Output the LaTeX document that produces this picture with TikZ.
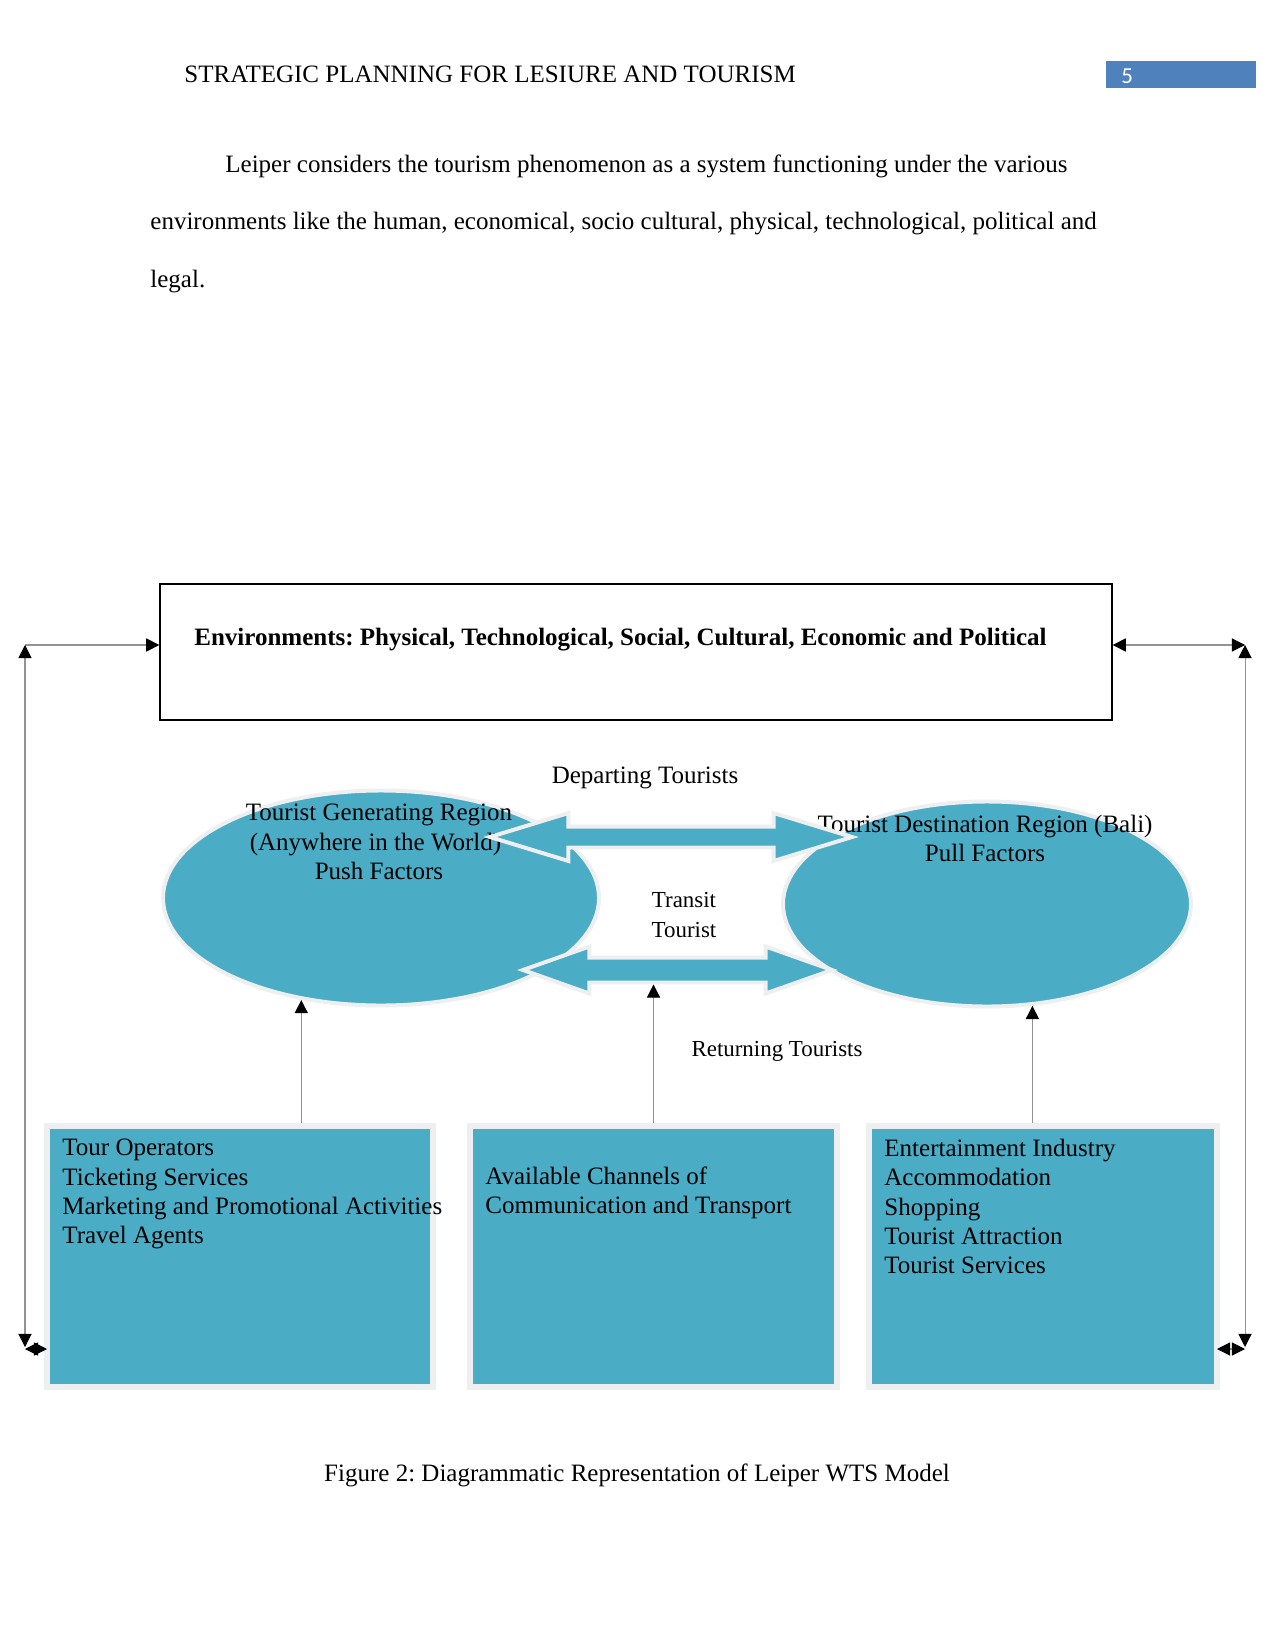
\documentclass[tikz,border=0pt]{standalone}
\usepackage{fontspec}
\setmainfont{Liberation Serif}
\newfontfamily\numfont{Carlito}
\usetikzlibrary{shapes.geometric,shapes.arrows,arrows.meta}
\frenchspacing

\definecolor{tourblue}{HTML}{4BACC6}
\definecolor{pageblue}{HTML}{4F81BD}
\definecolor{rim}{HTML}{EDEFF0}

\tikzset{
  region/.style={ellipse, fill=tourblue, draw=rim, line width=1.9pt, inner sep=0pt},
  sector/.style={rectangle, fill=tourblue, draw=rim, line width=2.9pt, inner sep=0pt, minimum height=125.28pt},
  flow/.style={double arrow, fill=tourblue, draw=rim, line width=1.9pt, inner xsep=0pt},
  link/.style={draw=gray!85, line width=0.5pt},
  tip/.style={-{Triangle[length=6.3pt,width=6.3pt,black]}},
  tips/.style={{Triangle[length=6.3pt,width=6.3pt,black]}-{Triangle[length=6.3pt,width=6.3pt,black]}},
  txt/.style={inner sep=0pt, font=\fontsize{12}{14}\selectfont},
  small/.style={inner sep=0pt, font=\fontsize{11}{14.2}\selectfont},
}

\begin{document}
\begin{tikzpicture}[x=0.48pt, y=-0.48pt]
    \useasboundingbox (0,0) rectangle (1275,1650);

    % header
    \node[txt, anchor=base west] (head) at (184,83) {STRATEGIC PLANNING FOR LESIURE AND TOURISM};
    \node[fill=pageblue, inner sep=0pt, minimum width=72pt, minimum height=12.96pt] (pagebox) at (1181,75) {};
    \node[inner sep=0pt, anchor=west, text=white, font=\numfont\fontsize{11}{13}\selectfont] (pagenum) at (1121,76) {5};

    % paragraph
    \node[txt, anchor=base west] (par1) at (225,173) {Leiper considers the tourism phenomenon as a system functioning under the various};
    \node[txt, anchor=base west] (par2) at (150,230) {environments like the human, economical, socio cultural, physical, technological, political and};
    \node[txt, anchor=base west] (par3) at (150,288) {legal.};

    % environments
    \node[draw, line width=0.6pt, inner sep=0pt, minimum width=456.96pt, minimum height=65.28pt] (env) at (636,652) {};
    \node[txt, anchor=base west, font=\bfseries\fontsize{12}{14}\selectfont] (envtxt) at (194,645)
        {Environments: Physical, Technological, Social, Cultural, Economic and Political};

    % regions
    \node[region, minimum width=209.28pt, minimum height=103.2pt] (gen) at (381,898) {};
    \node[region, minimum width=195.84pt, minimum height=98.4pt] (dest) at (987,904) {};

    \node[txt, anchor=north, align=center] (gentxt) at (379,804)
        {Tourist Generating Region\\(Anywhere in the World)\phantom{i}\\Push Factors};
    \node[txt, anchor=north, align=center] (desttxt) at (985,815)
        {Tourist Destination Region (Bali)\\Pull Factors};

    % flows
    \node[flow, inner ysep=4.08pt, double arrow head extend=6.48pt, double arrow tip angle=34,
          minimum height=173.76pt] (outflow) at (671,837) {};
    \node[flow, inner ysep=5.04pt, double arrow head extend=5.28pt, double arrow tip angle=39,
          minimum height=148.32pt] (backflow) at (677.5,970) {};

    \node[txt, anchor=base] (departing) at (645,783) {Departing Tourists};
    \node[small, anchor=north, align=center] (transit) at (684,892) {Transit\\Tourist};
    \node[small, anchor=base] (returning) at (777,1056) {Returning Tourists};

    % sectors
    \node[sector, minimum width=185.28pt] (opbox) at (240,1256.5) {};
    \node[sector, minimum width=176.16pt] (chanbox) at (653.5,1256.5) {};
    \node[sector, minimum width=167.04pt] (indbox) at (1043,1256.5) {};

    \node[txt, anchor=north west, align=left] (optxt) at (62,1139)
        {Tour Operators\\Ticketing Services\\Marketing and Promotional Activities\\Travel Agents};
    \node[txt, anchor=north west, align=left] (chantxt) at (485,1166)
        {Available Channels of\\Communication and Transport};
    \node[txt, anchor=north west, align=left] (indtxt) at (884,1139)
        {Entertainment Industry\\Accommodation\\Shopping\\Tourist Attraction\\Tourist Services};

    % links
    \draw[link, tip] (opbox.north -| gen.232) -- (gen.232);
    \draw[link, tip] (chanbox.north) -- (chanbox.north |- backflow.south);
    \draw[link, tip] (indbox.north -| dest.294) -- (dest.294);

    % loops
    \coordinate (ltop) at (25,645);
    \coordinate (lbot) at (25,1347);
    \coordinate (lfoot) at (47,1349);
    \coordinate (rtop) at (1245,645);
    \coordinate (rbot) at (1245,1347);
    \coordinate (rfoot) at (1217,1349);

    \draw[link, tip] (ltop) -- (env.west |- ltop);
    \draw[link, tips] (lbot) -- (ltop);
    \draw[link, tips] (lbot |- lfoot) -- (lfoot);
    \draw[link, tips] (env.east |- rtop) -- (rtop);
    \draw[link, tips] (rbot) -- (rtop);
    \draw[link, tips] (rfoot) -- (rbot |- rfoot);

    % caption
    \node[txt, anchor=base] (caption) at (637,1481) {Figure 2: Diagrammatic Representation of Leiper WTS Model};
\end{tikzpicture}
\end{document}
